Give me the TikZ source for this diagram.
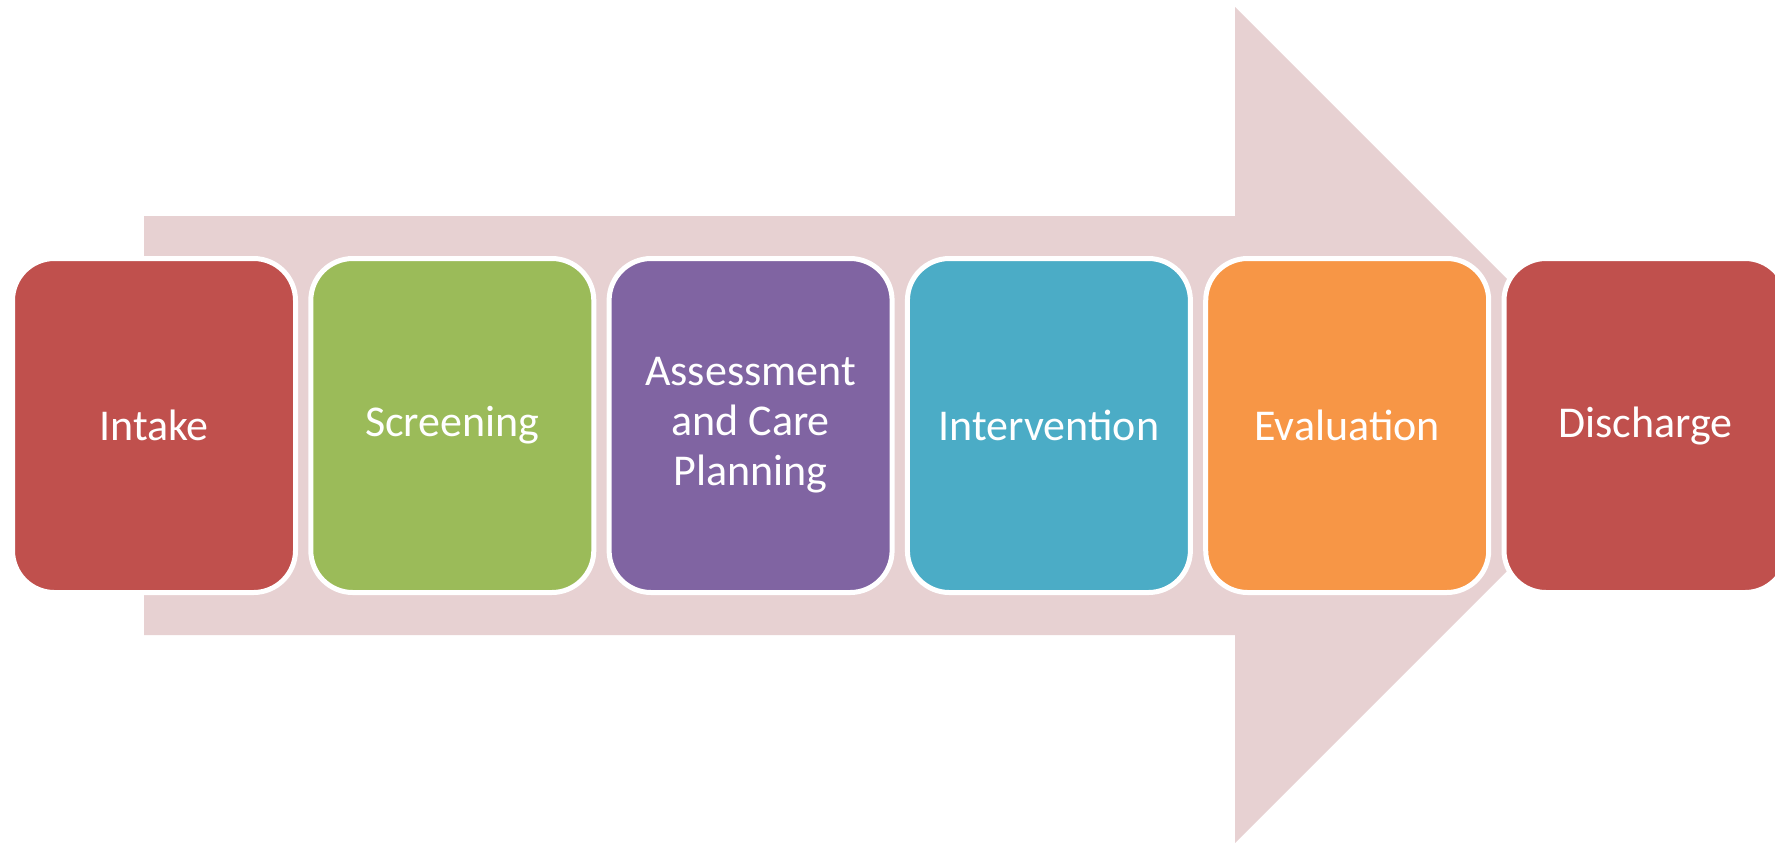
\documentclass[tikz,border=0pt]{standalone}
\usepackage{fontspec}
\setmainfont{Carlito}
\definecolor{flowpink}{RGB}{231,209,210}
\definecolor{stepred}{RGB}{192,80,77}
\definecolor{stepgreen}{RGB}{155,187,89}
\definecolor{steppurple}{RGB}{128,100,162}
\definecolor{stepblue}{RGB}{75,172,198}
\definecolor{steporange}{RGB}{247,150,70}
\tikzset{
  stagebox/.style={rectangle, rounded corners=21pt, draw=white, line width=2.5pt,
    minimum width=141.5pt, minimum height=167pt, text=white, align=center,
    font=\fontsize{22}{25}\selectfont, inner sep=0pt},
}
\begin{document}
\begin{tikzpicture}[x=0.5pt, y=-0.5pt]
\useasboundingbox (0,0) rectangle (1775,842);
% background block arrow
\fill[flowpink] (144,216) -- (1235,216) -- (1235,7) -- (1653,425)
  -- (1235,843) -- (1235,635) -- (144,635) -- cycle;
% process stages
\node[stagebox, fill=stepred]    (intake)     at (154,425.5)    {Intake};
\node[stagebox, fill=stepgreen]  (screening)  at (452.3,425.5)  {Screening};
\node[stagebox, fill=steppurple] (assessment) at (750.6,425.5)  {Assessment\\and Care\\Planning};
\node[stagebox, fill=stepblue]   (intervention) at (1048.9,425.5) {Intervention};
\node[stagebox, fill=steporange] (evaluation) at (1347.2,425.5) {Evaluation};
\node[stagebox, fill=stepred]    (discharge)  at (1645.5,425.5) {Discharge};
\end{tikzpicture}
\end{document}
